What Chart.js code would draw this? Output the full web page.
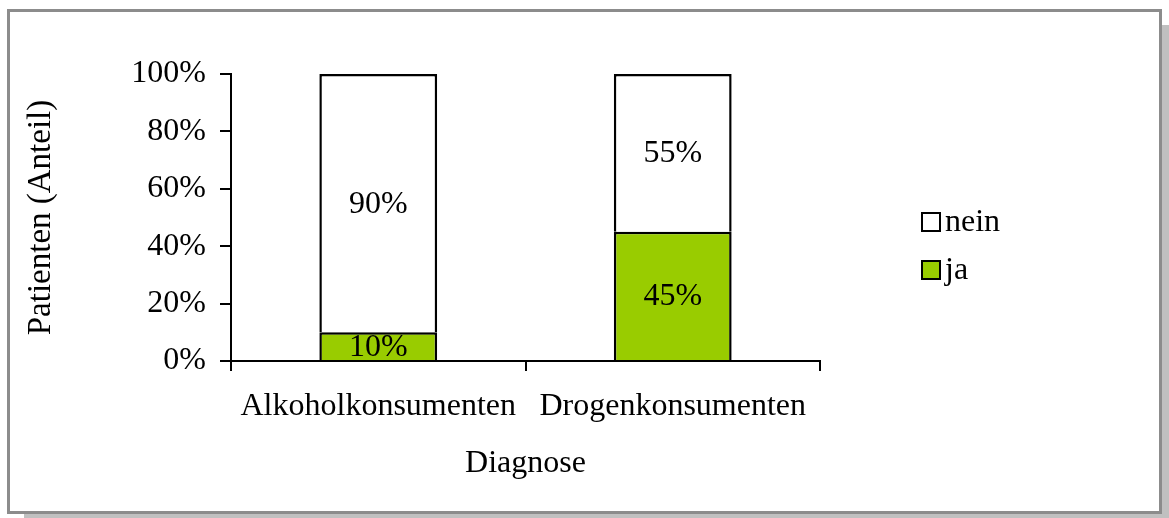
<!DOCTYPE html>
<html><head><meta charset="utf-8">
<script src="https://cdn.jsdelivr.net/npm/chart.js@4.4.1/dist/chart.umd.min.js"></script>
<style>
html,body{margin:0;padding:0;background:#fff;width:1169px;height:518px;overflow:hidden;}
#frame{position:absolute;left:7px;top:9px;width:1149px;height:499px;border:3px solid #8c8c8c;box-shadow:17px 16px 0 #c0c0c0;background:#fff;}
#c{position:absolute;left:0;top:0;}
</style></head><body>
<div id="frame"></div>
<canvas id="c" width="1169" height="518"></canvas>
<script>
const categories = ['Alkoholkonsumenten', 'Drogenkonsumenten'];
const jaValues = [10, 45];
const neinValues = [90, 55];
const yTickLabels = ['0%', '20%', '40%', '60%', '80%', '100%'];
const seriesNames = ['ja', 'nein'];

const FAMILY = '"Liberation Serif", "Times New Roman", serif';
const FS = 32;

const segLabels = {
  id: 'segLabels',
  afterDatasetsDraw(chart) {
    const ctx = chart.ctx;
    ctx.save();
    ctx.font = FS + 'px ' + FAMILY;
    ctx.fillStyle = '#000';
    ctx.textAlign = 'center';
    ctx.textBaseline = 'middle';
    chart.data.datasets.forEach((ds, i) => {
      const meta = chart.getDatasetMeta(i);
      meta.data.forEach((el, j) => {
        const p = el.getProps(['x', 'y', 'base'], true);
        ctx.fillText(ds.data[j] + '%', p.x, (p.y + p.base) / 2 + 1);
      });
    });
    ctx.restore();
  }
};

const sideLegend = {
  id: 'sideLegend',
  afterDraw(chart) {
    const ctx = chart.ctx;
    const items = chart.data.datasets.slice().reverse();
    const x0 = chart.chartArea.right + 101;
    const y0 = 222;
    const gap = 48;
    const box = 20;
    ctx.save();
    ctx.font = FS + 'px ' + FAMILY;
    ctx.textAlign = 'left';
    ctx.textBaseline = 'middle';
    items.forEach((ds, k) => {
      const cy = y0 + k * gap;
      ctx.fillStyle = ds.backgroundColor;
      ctx.fillRect(x0, cy - box / 2, box, box);
      ctx.lineWidth = 2;
      ctx.strokeStyle = '#000';
      ctx.strokeRect(x0 + 1, cy - box / 2 + 1, box - 2, box - 2);
      ctx.fillStyle = '#000';
      ctx.fillText(ds.label, x0 + box + 4, cy + 1);
    });
    ctx.restore();
  }
};

new Chart(document.getElementById('c'), {
  type: 'bar',
  data: {
    labels: categories,
    datasets: [
      { label: seriesNames[0], data: jaValues, backgroundColor: '#99cc00', borderColor: '#000', borderWidth: 2.5, inflateAmount: 0 },
      { label: seriesNames[1], data: neinValues, backgroundColor: '#ffffff', borderColor: '#000', borderWidth: 2.5, inflateAmount: 0 }
    ]
  },
  options: {
    responsive: false,
    animation: false,
    barPercentage: 0.4,
    categoryPercentage: 1,
    layout: { padding: { left: 0, top: 74, right: 349, bottom: 0 } },
    plugins: { legend: { display: false }, tooltip: { enabled: false } },
    scales: {
      x: {
        stacked: true,
        ticks: { color: '#000', font: { family: FAMILY, size: FS }, padding: 16, maxRotation: 0 },
        grid: { drawOnChartArea: false, drawTicks: true, tickLength: 10, color: '#000', lineWidth: 2, offset: true },
        border: { display: true, color: '#000', width: 2 },
        title: { display: true, text: 'Diagnose', color: '#000', font: { family: FAMILY, size: FS }, padding: { top: 0, bottom: 35 } },
        afterFit(s) { s.height = 157; }
      },
      y: {
        stacked: true,
        min: 0, max: 100,
        ticks: { stepSize: 20, color: '#000', font: { family: FAMILY, size: FS }, padding: 14,
          callback: (v, i) => yTickLabels[i] },
        grid: { drawOnChartArea: false, drawTicks: true, tickLength: 11, color: '#000', lineWidth: 2 },
        border: { display: true, color: '#000', width: 2 },
        title: { display: true, text: 'Patienten (Anteil)', color: '#000', font: { family: FAMILY, size: 33 }, padding: { top: 22, bottom: 0 } },
        afterFit(s) { s.width = 231; }
      }
    }
  },
  plugins: [segLabels, sideLegend]
});
</script>
</body></html>
